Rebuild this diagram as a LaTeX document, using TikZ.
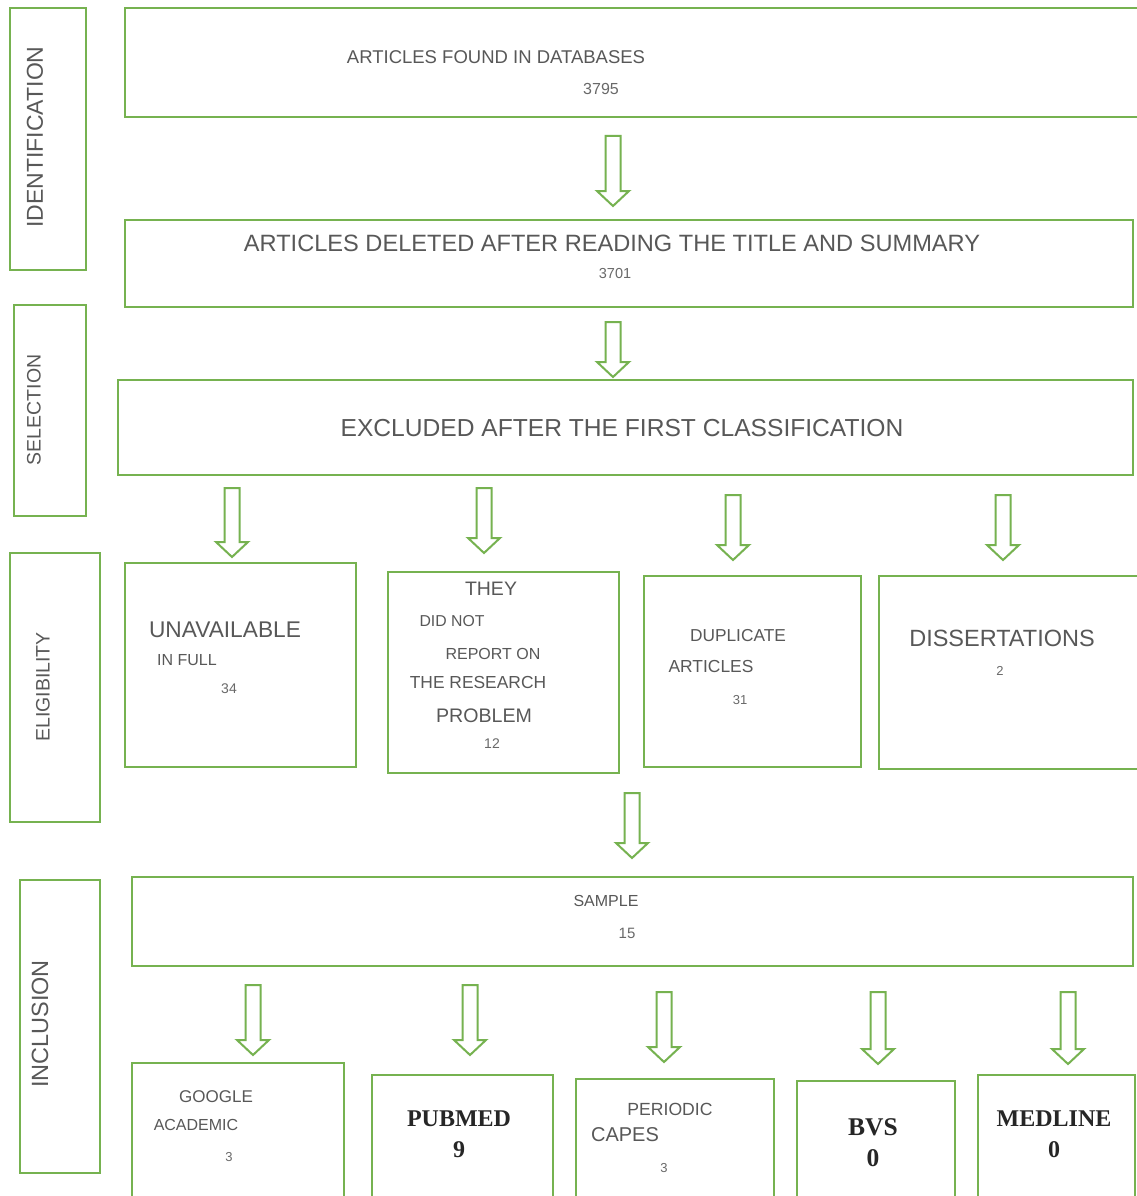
\documentclass[tikz,border=0pt]{standalone}
\usepackage{fontspec}
\setmainfont{Liberation Sans}
\newfontfamily\tnr{Liberation Serif}
\usetikzlibrary{calc}
\definecolor{bgreen}{RGB}{118,178,80}
\definecolor{tgray}{RGB}{88,88,88}
\definecolor{ngray}{RGB}{105,105,105}
\newcommand{\fs}[1]{\fontsize{#1}{#1}\selectfont}
\newcommand{\bx}[5]{\node[box, minimum width={#4-#2}, minimum height={#5-#3}] (#1) at (#2,#3) {};}
\begin{document}
\begin{tikzpicture}[x=1pt,y=-1pt,
  box/.style={draw=bgreen, line width=2.4pt, rectangle, inner sep=0pt, outer sep=0pt, anchor=north west},
  txt/.style={text=tgray, inner sep=0pt},
  num/.style={text=ngray, inner sep=0pt},
  boldt/.style={text=black!85, inner sep=0pt, font=\tnr\bfseries\fs{24}},
  arr/.style={draw=bgreen, line width=2pt, line join=miter},
  hollow/.style={to path={let \p1=(\tikztostart), \p2=(\tikztotarget) in
     (\x1-7.5pt,\y1) -- (\x1+7.5pt,\y1) -- (\x1+7.5pt,\y2+15pt) -- (\x1+16pt,\y2+15pt)
     -- (\x1,\y2) -- (\x1-16pt,\y2+15pt) -- (\x1-7.5pt,\y2+15pt) -- cycle}}]
\clip (0,0) rectangle (1137,1196);
\fill[white] (0,0) rectangle (1137,1196);

% stage label boxes
\bx{lid}{10}{8}{86}{270}
\bx{lsel}{14}{305}{86}{516}
\bx{lel}{10}{553}{100}{822}
\bx{lin}{20}{880}{100}{1173}
\node[txt, rotate=90, font=\fs{23}] (tid) at (35,137) {IDENTIFICATION};
\node[txt, rotate=90, font=\fs{19.5}] (tsel) at (34,410) {SELECTION};
\node[txt, rotate=90, font=\fs{19.5}] (tel) at (43,687) {ELIGIBILITY};
\node[txt, rotate=90, font=\fs{23.5}] (tin) at (40,1024) {INCLUSION};

% main boxes
\bx{b1}{125}{8}{1150}{117}
\bx{b2}{125}{220}{1133}{307}
\bx{b3}{118}{380}{1133}{475}
\bx{eA}{125}{563}{356}{767}
\bx{eB}{388}{572}{619}{773}
\bx{eC}{644}{576}{861}{767}
\bx{eD}{879}{576}{1150}{769}
\bx{smp}{132}{877}{1133}{966}
\bx{iG}{132}{1063}{344}{1210}
\bx{iP}{372}{1075}{553}{1210}
\bx{iC}{576}{1079}{774}{1210}
\bx{iB}{797}{1081}{955}{1210}
\bx{iM}{978}{1075}{1135}{1210}

% texts
\node[txt, font=\fs{18.5}] (t1) at (496,57) {ARTICLES FOUND IN DATABASES};
\node[num, font=\fs{16}] (n1) at (601,89) {3795};
\node[txt, font=\fs{23.6}] (t2) at (612,243) {ARTICLES DELETED AFTER READING THE TITLE AND SUMMARY};
\node[num, font=\fs{14.5}] (n2) at (615,274) {3701};
\node[txt, font=\fs{24.6}] (t3) at (622,428) {EXCLUDED AFTER THE FIRST CLASSIFICATION};

\node[txt, font=\fs{22.7}] (tA1) at (225,630) {UNAVAILABLE};
\node[txt, font=\fs{16}] (tA2) at (187,660) {IN FULL};
\node[num, font=\fs{14}] (nA) at (229,689) {34};

\node[txt, font=\fs{19.5}] (tB1) at (491,589) {THEY};
\node[txt, font=\fs{15.8}] (tB2) at (452,621) {DID NOT};
\node[txt, font=\fs{16}] (tB3) at (493,654) {REPORT ON};
\node[txt, font=\fs{17.4}] (tB4) at (478,683) {THE RESEARCH};
\node[txt, font=\fs{19.6}] (tB5) at (484,716) {PROBLEM};
\node[num, font=\fs{14}] (nB) at (492,744) {12};

\node[txt, font=\fs{17.3}] (tC1) at (738,636) {DUPLICATE};
\node[txt, font=\fs{17.4}] (tC2) at (711,667) {ARTICLES};
\node[num, font=\fs{13}] (nC) at (740,700) {31};

\node[txt, font=\fs{23.5}] (tD1) at (1002,638) {DISSERTATIONS};
\node[num, font=\fs{13}] (nD) at (1000,671) {2};

\node[txt, font=\fs{16}] (tS) at (606,901) {SAMPLE};
\node[num, font=\fs{15}] (nS) at (627,933) {15};

\node[txt, font=\fs{17}] (tG1) at (216,1097) {GOOGLE};
\node[txt, font=\fs{16}] (tG2) at (196,1125) {ACADEMIC};
\node[num, font=\fs{13}] (nG) at (229,1157) {3};

\node[boldt] (tP) at (459,1119) {PUBMED};
\node[boldt] (nP) at (459,1150) {9};

\node[txt, font=\fs{17.6}] (tC3) at (670,1109) {PERIODIC};
\node[txt, font=\fs{20}] (tC4) at (625,1135) {CAPES};
\node[num, font=\fs{13}] (nC2) at (664,1168) {3};

\node[boldt, font=\tnr\bfseries\fs{25.5}] (tBV) at (873,1127) {BVS};
\node[boldt, font=\tnr\bfseries\fs{25.5}] (nBV) at (873,1158) {0};

\node[boldt] (tM) at (1054,1119) {MEDLINE};
\node[boldt] (nM) at (1054,1150) {0};

% arrow columns
\coordinate (x1) at (613,0);
\coordinate (xA) at (232,0);
\coordinate (xB) at (484,0);
\coordinate (xC) at (733,0);
\coordinate (xD) at (1003,0);
\coordinate (xS) at (632,0);
\coordinate (xG) at (253,0);
\coordinate (xP) at (470,0);
\coordinate (xCa) at (664,0);
\coordinate (xBv) at (878,0);
\coordinate (xM) at (1068,0);

% connectors
\draw[arr] ($(b1.south -| x1)+(0,19)$) to[hollow] ($(b2.north -| x1)+(0,-14)$);
\draw[arr] ($(b2.south -| x1)+(0,15)$) to[hollow] ($(b3.north -| x1)+(0,-3)$);
\draw[arr] ($(b3.south -| xA)+(0,13)$) to[hollow] ($(eA.north -| xA)+(0,-6)$);
\draw[arr] ($(b3.south -| xB)+(0,13)$) to[hollow] ($(eB.north -| xB)+(0,-19)$);
\draw[arr] ($(b3.south -| xC)+(0,20)$) to[hollow] ($(eC.north -| xC)+(0,-16)$);
\draw[arr] ($(b3.south -| xD)+(0,20)$) to[hollow] ($(eD.north -| xD)+(0,-16)$);
\draw[arr] ($(eB.south -| xS)+(0,20)$) to[hollow] ($(smp.north -| xS)+(0,-19)$);
\draw[arr] ($(smp.south -| xG)+(0,19)$) to[hollow] ($(iG.north -| xG)+(0,-8)$);
\draw[arr] ($(smp.south -| xP)+(0,19)$) to[hollow] ($(iP.north -| xP)+(0,-20)$);
\draw[arr] ($(smp.south -| xCa)+(0,26)$) to[hollow] ($(iC.north -| xCa)+(0,-17)$);
\draw[arr] ($(smp.south -| xBv)+(0,26)$) to[hollow] ($(iB.north -| xBv)+(0,-17)$);
\draw[arr] ($(smp.south -| xM)+(0,26)$) to[hollow] ($(iM.north -| xM)+(0,-11)$);
\end{tikzpicture}
\end{document}
